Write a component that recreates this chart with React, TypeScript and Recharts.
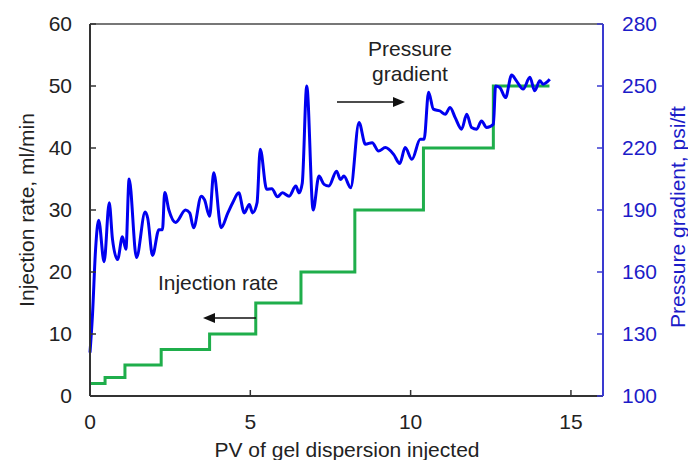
import { Line, LineChart, ReferenceLine, XAxis, YAxis } from "recharts";

// step schedule of injection rate (ml/min) vs PV injected
const ratePv = [0, 0.47, 1.09, 2.22, 3.73, 5.17, 6.58, 8.26, 10.4, 12.58, 14.33];
const rateVals = [2, 3, 5, 7.5, 10, 15, 20, 30, 40, 50, 50];

// pressure gradient (psi/ft) vs PV injected
const pressPv = [
  0, 0.08, 0.17, 0.27, 0.44, 0.6, 0.7, 0.86, 1.01, 1.12, 1.22, 1.45, 1.72, 1.8, 1.95, 2.15, 2.26, 2.33,
  2.46, 2.67, 2.98, 3.11, 3.23, 3.47, 3.57, 3.73, 3.86, 4.09, 4.3, 4.45, 4.64, 4.81, 4.97, 5.07, 5.21,
  5.31, 5.51, 5.67, 5.85, 6.0, 6.21, 6.42, 6.52, 6.62, 6.76, 6.96, 7.14, 7.3, 7.45, 7.69, 7.81, 7.92,
  8.13, 8.39, 8.59, 8.8, 9.0, 9.21, 9.47, 9.66, 9.83, 10.04, 10.3, 10.42, 10.56, 10.71, 10.92, 11.08,
  11.23, 11.39, 11.59, 11.75, 11.9, 12.06, 12.21, 12.37, 12.58, 12.65, 12.78, 12.96, 13.15, 13.3, 13.51,
  13.72, 13.87, 14.03, 14.13, 14.34,
];
const pressVals = [
  121, 140, 170, 185, 165, 193.5, 176, 166, 177, 171, 205, 167, 189, 186, 168, 180.5, 180.5, 198.5,
  190, 184, 190, 188.6, 181.4, 196.7, 195, 187, 208, 181.4, 188.6, 193.5, 198.3, 188.6, 192.7, 188.6, 193.5,
  219.4, 200, 200.3, 196.4, 198.3, 196.7, 201.6, 198.3, 203, 250, 190, 206.4, 202.4, 201.6, 208.8, 204.8, 206.4,
  200.8, 232.3, 221.8, 222.6, 218.5, 220.2, 216.9, 212.5, 220.2, 214.5, 224.2, 224.2, 247, 238.8, 237.9, 236.3,
  239.6, 234.7, 229.1, 236.3, 229.9, 229.1, 233.1, 229.9, 231.5, 250, 249.3, 244.4, 255.3, 252.5, 248.5,
  254.2, 247.7, 252.5, 250.9, 253.3,
];

const xTicks = [0, 5, 10, 15];
const leftTicks = [0, 10, 20, 30, 40, 50, 60];
const rightTicks = [100, 130, 160, 190, 220, 250, 280];

const rateData = ratePv.map((pv, i) => ({ pv, rate: rateVals[i] }));
const pressData = pressPv.map((pv, i) => ({ pv, dp: pressVals[i] }));

const FONT = "'Liberation Sans', Arial, sans-serif";
const BLUE = "#0000f0";
const GREEN = "#1fae4b";
const AXIS_BLUE = "#3a3ad0";

export default function App() {
  return (
    <div style={{ position: "relative", width: 688, height: 460, fontFamily: FONT, background: "#fff" }}>
      <style>{"body{margin:0}"}</style>
      <LineChart width={688} height={460} data={rateData} margin={{ top: 24, right: 0, bottom: 0, left: 0 }}>
        <XAxis
          dataKey="pv" type="number" domain={[0, 16]} ticks={xTicks} height={64}
          axisLine={{ stroke: "#333", strokeWidth: 2 }} tickLine={{ stroke: "#333", strokeWidth: 1.5 }}
          tickSize={-6} tickMargin={24} tick={{ fill: "#222", fontSize: 21, fontFamily: FONT }}
        />
        <YAxis
          yAxisId="left" domain={[0, 60]} ticks={leftTicks} width={90}
          axisLine={{ stroke: "#333", strokeWidth: 2 }} tickLine={{ stroke: "#333", strokeWidth: 1.5 }}
          tickSize={-6} tickMargin={24} tick={{ fill: "#222", fontSize: 21, fontFamily: FONT }}
        />
        <YAxis
          yAxisId="right" orientation="right" domain={[100, 280]} ticks={rightTicks} width={85}
          axisLine={{ stroke: AXIS_BLUE, strokeWidth: 2 }} tickLine={{ stroke: AXIS_BLUE, strokeWidth: 1.5 }}
          tickSize={-6} tickMargin={25} tick={{ fill: "#1c1cc8", fontSize: 21, fontFamily: FONT }}
        />
        <ReferenceLine yAxisId="left" y={60} stroke="#777" strokeWidth={2} />
        <Line
          yAxisId="left" data={rateData} dataKey="rate" type="stepAfter" stroke={GREEN} strokeWidth={3}
          dot={false} isAnimationActive={false}
        />
        <Line
          yAxisId="right" data={pressData} dataKey="dp" type="monotone" stroke={BLUE} strokeWidth={3}
          dot={false} isAnimationActive={false}
        />
      </LineChart>
      <svg width={688} height={460} style={{ position: "absolute", left: 0, top: 0, pointerEvents: "none" }}>
        <g fontFamily={FONT} fontSize={21} fill="#222">
          <text x={26} y={210} textAnchor="middle" dominantBaseline="central" transform="rotate(-90 26 210)">
            Injection rate, ml/min
          </text>
          <text x={677} y={217} textAnchor="middle" dominantBaseline="central" fill="#1c1cc8" transform="rotate(-90 677 217)">
            Pressure gradient, psi/ft
          </text>
          <text x={347} y={449} textAnchor="middle" dominantBaseline="central">PV of gel dispersion injected</text>
          <text x={410} y={48} textAnchor="middle" dominantBaseline="central">Pressure</text>
          <text x={410} y={73} textAnchor="middle" dominantBaseline="central">gradient</text>
          <text x={218} y={282} textAnchor="middle" dominantBaseline="central">Injection rate</text>
        </g>
        <line x1={337} y1={102} x2={394} y2={102} stroke="#111" strokeWidth={1.5} />
        <polygon points="405,102 393,97 393,107" fill="#111" />
        <line x1={256} y1={318} x2={214} y2={318} stroke="#111" strokeWidth={1.5} />
        <polygon points="203,318 215,313 215,323" fill="#111" />
      </svg>
    </div>
  );
}
